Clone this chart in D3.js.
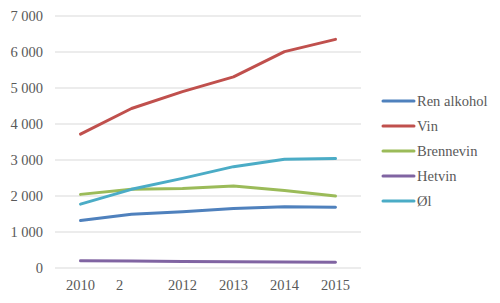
<!DOCTYPE html>
<html lang="no">
<head>
<meta charset="utf-8">
<title>Alkoholforbruk</title>
<script src="https://cdn.jsdelivr.net/npm/d3@7"></script>
<style>
  body { margin: 0; background: #fff; }
  text { font-family: "Liberation Serif", serif; font-size: 14.5px; fill: #595959; }
</style>
</head>
<body>
<svg id="chart" width="500" height="303"></svg>
<script>
// categories and tick labels
var years = ["2010", "2011", "2012", "2013", "2014", "2015"];
var yearLabels = ["2010", "2", "2012", "2013", "2014", "2015"];
var yTicks = [0, 1000, 2000, 3000, 4000, 5000, 6000, 7000];

// series values
var seriesNames = ["Ren alkohol", "Vin", "Brennevin", "Hetvin", "Øl"];
var renAlkohol = [1320, 1490, 1565, 1655, 1700, 1685];
var vin = [3720, 4430, 4900, 5310, 6010, 6350];
var brennevin = [2045, 2190, 2205, 2275, 2150, 2000];
var hetvin = [200, 192, 182, 176, 168, 158];
var ol = [1775, 2185, 2490, 2815, 3020, 3040];
var colors = ["#4F81BD", "#C0504D", "#9BBB59", "#8064A2", "#4BACC6"];

var series = [renAlkohol, vin, brennevin, hetvin, ol];

var svg = d3.select("#chart");

// plot area
var plotLeft = 55, plotRight = 361, plotTop = 16, plotBottom = 268;

var x = d3.scaleBand()
    .domain(years)
    .range([plotLeft, plotRight]);

var y = d3.scaleLinear()
    .domain([0, 7000])
    .range([plotBottom, plotTop]);

// gridlines
svg.append("g")
    .selectAll("line")
    .data(yTicks)
    .enter()
    .append("line")
    .attr("x1", plotLeft)
    .attr("x2", plotRight)
    .attr("y1", function(d) { return y(d); })
    .attr("y2", function(d) { return y(d); })
    .attr("stroke", "#D9D9D9")
    .attr("stroke-width", 1);

// y axis labels
var fmt = function(d) {
    return d3.format(",")(d).replace(",", " ");
};
svg.append("g")
    .selectAll("text")
    .data(yTicks)
    .enter()
    .append("text")
    .attr("x", 43)
    .attr("y", function(d) { return y(d); })
    .attr("dy", "0.35em")
    .attr("text-anchor", "end")
    .text(fmt);

// x axis labels
svg.append("g")
    .selectAll("text")
    .data(years)
    .enter()
    .append("text")
    .attr("x", function(d, i) {
        var cx = x(d) + x.bandwidth() / 2;
        // the second label is cut to "2" and sits left of its tick
        return i === 1 ? cx - 12 : cx;
    })
    .attr("y", 290)
    .attr("text-anchor", "middle")
    .text(function(d, i) { return yearLabels[i]; });

// lines
var line = d3.line()
    .x(function(d, i) { return x(years[i]) + x.bandwidth() / 2; })
    .y(function(d) { return y(d); });

svg.append("g")
    .selectAll("path")
    .data(series)
    .enter()
    .append("path")
    .attr("d", line)
    .attr("fill", "none")
    .attr("stroke", function(d, i) { return colors[i]; })
    .attr("stroke-width", 3)
    .attr("stroke-linejoin", "round")
    .attr("stroke-linecap", "round");

// legend
var legend = svg.append("g")
    .selectAll("g")
    .data(seriesNames)
    .enter()
    .append("g")
    .attr("transform", function(d, i) {
        return "translate(383," + (101 + i * 25) + ")";
    });

legend.append("line")
    .attr("x1", 0)
    .attr("x2", 31)
    .attr("stroke", function(d, i) { return colors[i]; })
    .attr("stroke-width", 3)
    .attr("stroke-linecap", "round");

legend.append("text")
    .attr("x", 34)
    .attr("dy", "0.35em")
    .text(function(d) { return d; });
</script>
</body>
</html>
